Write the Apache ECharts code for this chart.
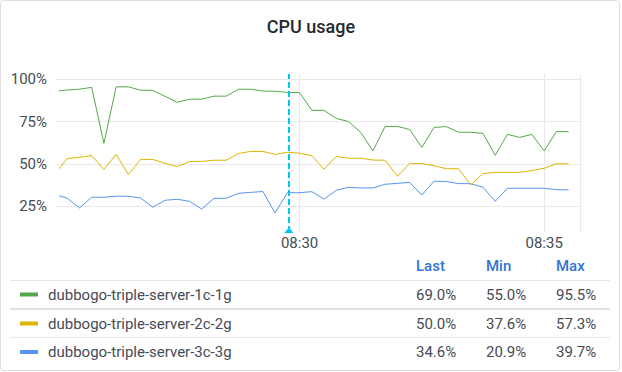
<!DOCTYPE html>
<html><head><meta charset="utf-8">
<script src="https://cdn.jsdelivr.net/npm/echarts@6/dist/echarts.min.js"></script>
<style>html,body{margin:0;padding:0;background:#fff}#c{width:622px;height:372px}</style>
</head><body><div id="c"></div>
<script>
const seriesNames = ['dubbogo-triple-server-1c-1g', 'dubbogo-triple-server-2c-2g', 'dubbogo-triple-server-3c-3g'];
const seriesColors = ['#56A64B', '#E0B400', '#5794F2'];
const times = ['08:25:05','08:25:15','08:25:30','08:25:45','08:26:00','08:26:15','08:26:30','08:26:45','08:27:00','08:27:15','08:27:30',
  '08:27:45','08:28:00','08:28:15','08:28:30','08:28:45','08:29:00','08:29:15','08:29:30','08:29:45','08:30:00',
  '08:30:15','08:30:30','08:30:45','08:31:00','08:31:15','08:31:30','08:31:45','08:32:00','08:32:15','08:32:30',
  '08:32:45','08:33:00','08:33:15','08:33:30','08:33:45','08:34:00','08:34:15','08:34:30','08:34:45','08:35:00','08:35:15','08:35:30'];
const server1 = [93.1, 93.6, 94.1, 95.2, 62.1, 95.5, 95.5, 93.5, 93.4, 89.9, 86.4,
  88.2, 88.2, 90.0, 90.0, 94.1, 94.1, 93.0, 92.9, 92.2, 92.1,
  81.6, 81.6, 76.8, 75.0, 68.6, 57.6, 72.1, 72.1, 70.3, 59.7,
  71.5, 72.0, 68.7, 68.6, 68.0, 55.0, 67.4, 65.6, 67.4, 57.6, 69.0, 69.0];
const server2 = [47.1, 53.1, 53.8, 54.9, 46.7, 55.5, 43.6, 52.6, 52.6, 50.3, 48.3,
  51.3, 51.4, 52.1, 52.1, 56.1, 57.3, 57.3, 55.5, 56.8, 56.3,
  54.8, 46.8, 54.3, 53.3, 53.3, 52.2, 52.1, 42.7, 50.1, 50.1,
  48.8, 47.1, 47.1, 37.6, 44.2, 44.9, 44.9, 44.9, 46.0, 47.3, 50.0, 50.0];
const server3 = [31.1, 29.6, 23.9, 30.2, 30.2, 30.8, 30.8, 29.7, 24.3, 28.4, 29.0,
  27.8, 23.2, 29.6, 29.6, 32.5, 33.1, 33.6, 20.9, 32.9, 32.9,
  33.5, 29.1, 34.3, 36.1, 35.7, 35.7, 37.9, 38.4, 39.0, 31.5,
  39.7, 39.5, 38.3, 38.2, 36.2, 27.8, 35.5, 35.5, 35.5, 35.5, 34.7, 34.6];
const yTicks = [25, 50, 75, 100];
const annotationTime = '08:29:47';
const legendHeaders = ['Last', 'Min', 'Max'];

const allSeries = [server1, server2, server3];
function toMs(s) { const p = s.split(':').map(Number); return Date.UTC(2024, 0, 1, p[0], p[1], p[2]); }
function fmt(ms) { const d = new Date(ms); return String(d.getUTCHours()).padStart(2, '0') + ':' + String(d.getUTCMinutes()).padStart(2, '0'); }
const xMin = toMs('08:25:00'), xMax = toMs('08:35:44');
const yMin = 9.65, yMax = 103.1;
const FONT = 'Roboto, "DejaVu Sans", sans-serif';
const gridColor = '#e9e9e9';
const textColor = '#464c54';

const series = allSeries.map((vals, i) => ({
  name: seriesNames[i], type: 'line', showSymbol: false, animation: false,
  lineStyle: { width: 1, color: seriesColors[i] }, itemStyle: { color: seriesColors[i] },
  data: vals.map((v, j) => [toMs(times[j]), v]),
  z: 3 - i
}));
series[0].markLine = {
  silent: true, symbol: 'none', label: { show: false }, animation: false,
  lineStyle: { type: [6, 3], width: 2, color: '#00C8F8' },
  data: [{ xAxis: toMs(annotationTime) }]
};
series[0].markPoint = {
  silent: true, animation: false, symbol: 'triangle', symbolSize: [9, 6], symbolOffset: [0, -2],
  itemStyle: { color: '#00C8F8' }, label: { show: false },
  data: [{ coord: [toMs(annotationTime), yMin] }]
};

const graphic = [];
graphic.push({ type: 'rect', silent: true, shape: { x: 0.5, y: 0.5, width: 619, height: 370, r: 3 }, style: { fill: 'none', stroke: '#dedede', lineWidth: 1 } });
const colX = [416, 486, 556];
const headerY = 266, rowY = [294.5, 323.5, 352];
legendHeaders.forEach((h, i) => graphic.push({ type: 'text', x: colX[i], y: headerY, style: { text: h, fill: '#3274D9', font: '500 15px ' + FONT, verticalAlign: 'middle' } }));
[280.5, 309, 337.5].forEach((y, i) => graphic.push({ type: 'line', silent: true, shape: { x1: 10, y1: y, x2: 610, y2: y }, style: { stroke: i === 1 ? '#e2e2e2' : '#e6e6e6', lineWidth: i === 1 ? 2 : 1 } }));
allSeries.forEach((vals, i) => {
  const stats = [vals[vals.length - 1], Math.min(...vals), Math.max(...vals)];
  graphic.push({ type: 'rect', shape: { x: 20, y: rowY[i] - 2, width: 18, height: 4 }, style: { fill: seriesColors[i] } });
  graphic.push({ type: 'text', x: 48, y: rowY[i], style: { text: seriesNames[i], fill: textColor, font: '15px ' + FONT, verticalAlign: 'middle' } });
  stats.forEach((s, k) => graphic.push({ type: 'text', x: colX[k], y: rowY[i], style: { text: s.toFixed(1) + '%', fill: textColor, font: '15px ' + FONT, verticalAlign: 'middle' } }));
});

const chart = echarts.init(document.getElementById('c'), null, { renderer: 'svg' });
chart.setOption({
  animation: false,
  backgroundColor: '#fff',
  title: { text: 'CPU usage', left: 'center', top: 12, textStyle: { fontFamily: FONT, fontSize: 18, fontWeight: 500, color: '#24292e' } },
  grid: { left: 55, right: 42, top: 74, bottom: 140 },
  xAxis: {
    type: 'value', min: xMin, max: xMax, interval: 300000,
    axisLine: { show: false }, axisTick: { show: false },
    axisLabel: { showMinLabel: false, margin: 3, color: textColor, fontFamily: FONT, fontSize: 15, formatter: v => fmt(v) },
    splitLine: { show: true, showMinLine: false, lineStyle: { color: gridColor, width: 1 } }
  },
  yAxis: {
    type: 'value', min: yMin, max: yMax,
    axisLine: { show: false }, axisTick: { show: false, customValues: yTicks },
    axisLabel: { customValues: yTicks, margin: 8, color: textColor, fontFamily: FONT, fontSize: 15, formatter: '{value}%' },
    splitLine: { show: true, lineStyle: { color: gridColor, width: 1 } }
  },
  graphic: graphic,
  series: series
});
</script></body></html>
